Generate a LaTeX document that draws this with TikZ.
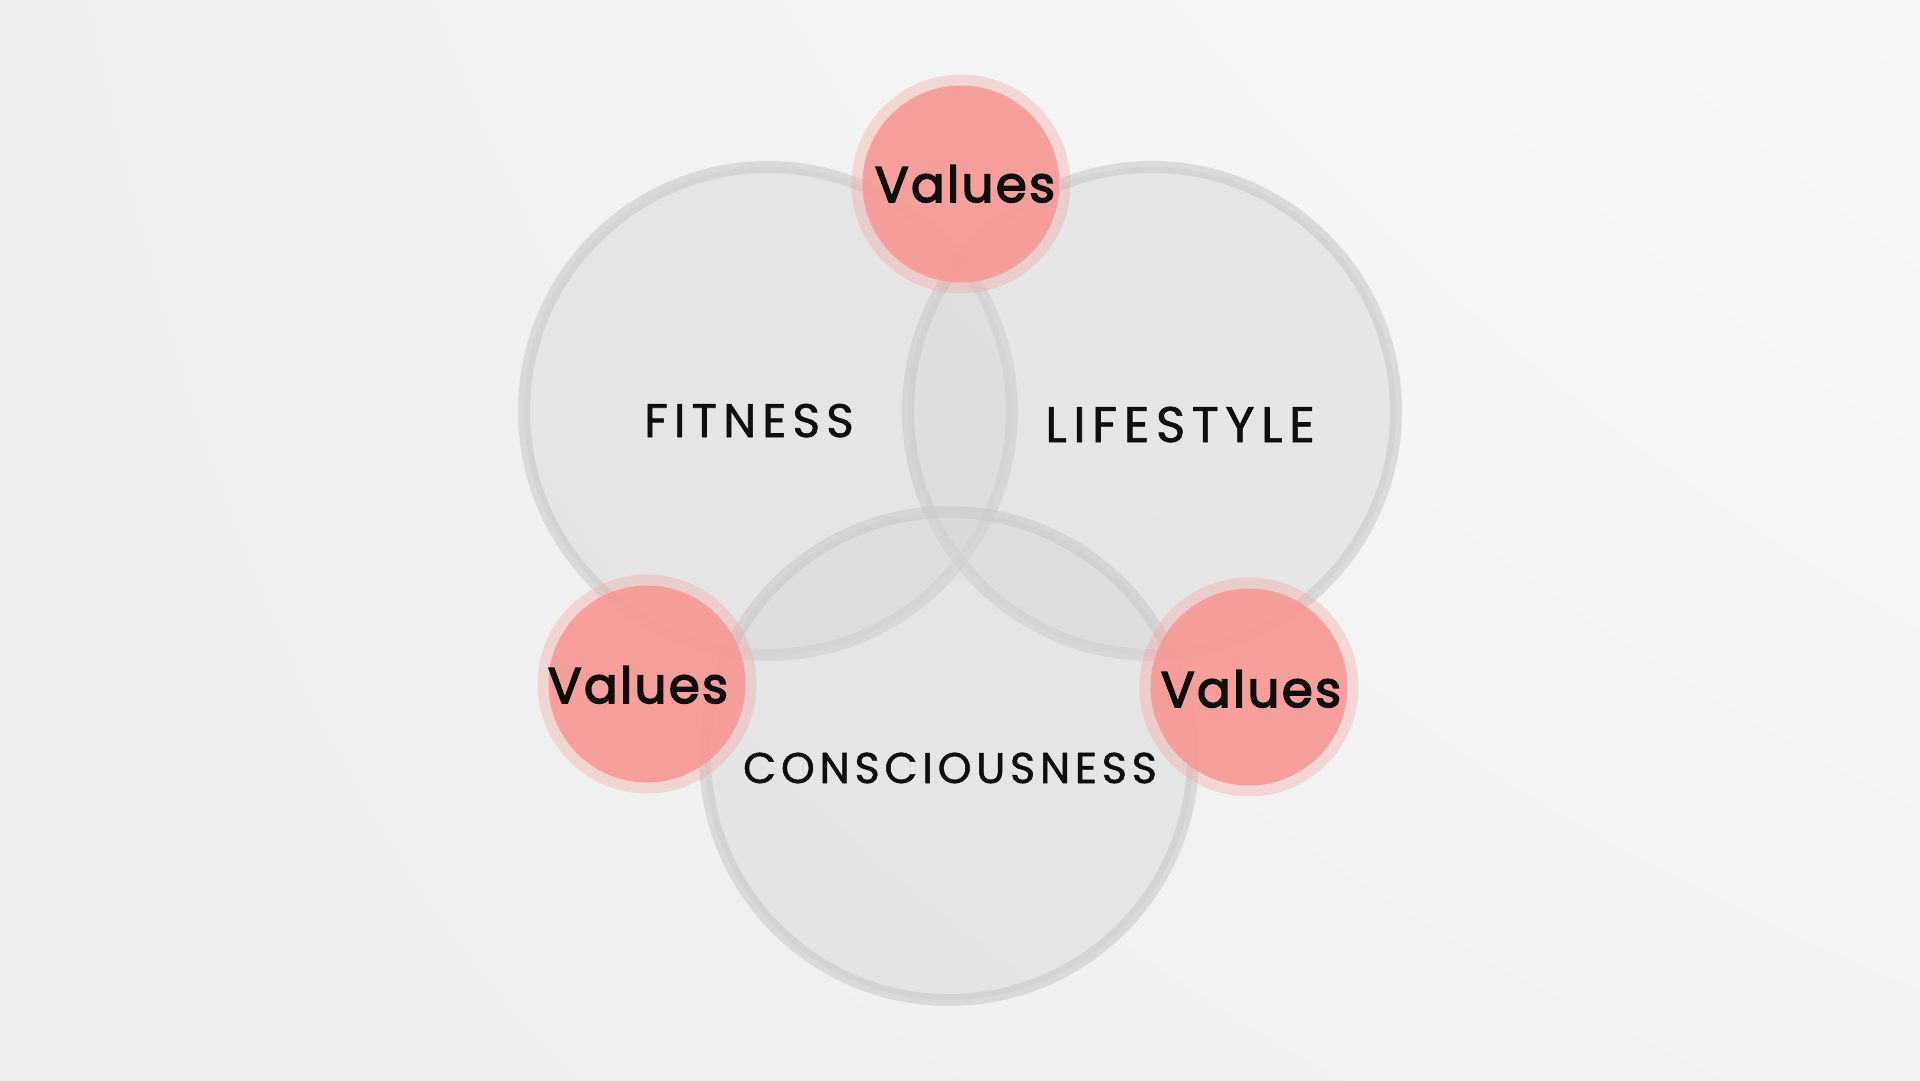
\documentclass[tikz,border=0pt]{standalone}
\usepackage{fontspec}
\usetikzlibrary{shadings}
\newfontfamily\popval{Poppins}[FakeBold=3, LetterSpace=4.5]
\newfontfamily\poplab{Poppins}[FakeBold=1.2, LetterSpace=13]
\newfontfamily\poplabb{Poppins}[FakeBold=1.2, LetterSpace=13]
\newfontfamily\poplabc{Poppins}[FakeBold=1.2, LetterSpace=11]
\definecolor{bgul}{HTML}{EDEFEE}
\definecolor{bgur}{HTML}{F8F8F8}
\definecolor{bgll}{HTML}{ECEEED}
\definecolor{bglr}{HTML}{F1F2F1}
\definecolor{ringgray}{RGB}{200,200,200}
\definecolor{fillgray}{RGB}{215,215,215}
\definecolor{valred}{RGB}{248,152,149}
\definecolor{txt}{HTML}{0E0E0E}
\tikzset{
  bigcirc/.style={circle, inner sep=0pt, minimum size=488pt, line width=12pt,
    draw=ringgray, draw opacity=0.55, fill=fillgray, fill opacity=0.45},
  halo/.style={circle, inner sep=0pt, minimum size=219pt, fill=valred, fill opacity=0.3},
  redcore/.style={circle, inner sep=0pt, minimum size=197pt, fill=valred, fill opacity=0.88},
  lbl/.style={anchor=base, inner sep=0pt, text=txt},
  vallbl/.style={lbl, font={\popval\fontsize{50}{50}\selectfont}},
}
\begin{document}
\begin{tikzpicture}[x=1pt,y=-1pt]
\useasboundingbox (0,0) rectangle (1920,1080);
\shade[upper left=bgul, upper right=bgur, lower left=bgll, lower right=bglr] (0,0) rectangle (1920,1080);
% big circles
\node[bigcirc] (fit) at (768,411) {};
\node[bigcirc] (life) at (1152,411) {};
\node[bigcirc] (cons) at (949,756) {};
% values circles
\node[halo] (vth) at (961,184) {};
\node[redcore] (vt) at (961,184) {};
\node[halo] (vlh) at (647,684) {};
\node[redcore] (vl) at (647,684) {};
\node[halo] (vrh) at (1249,687) {};
\node[redcore] (vr) at (1249,687) {};
% labels
\node[lbl, font={\poplab\fontsize{47}{47}\selectfont}] (tfit) at (749,437) {FITNESS};
\node[lbl, font={\poplabb\fontsize{50}{50}\selectfont}] (tlife) at (1180,442) {LIFESTYLE};
\node[lbl, font={\poplabc\fontsize{43}{43}\selectfont}] (tcons) at (950,783) {CONSCIOUSNESS};
\node[vallbl] (tvt) at (965,202) {Values};
\node[vallbl] (tvl) at (638,703) {Values};
\node[vallbl] (tvr) at (1251,707) {Values};
\end{tikzpicture}
\end{document}
